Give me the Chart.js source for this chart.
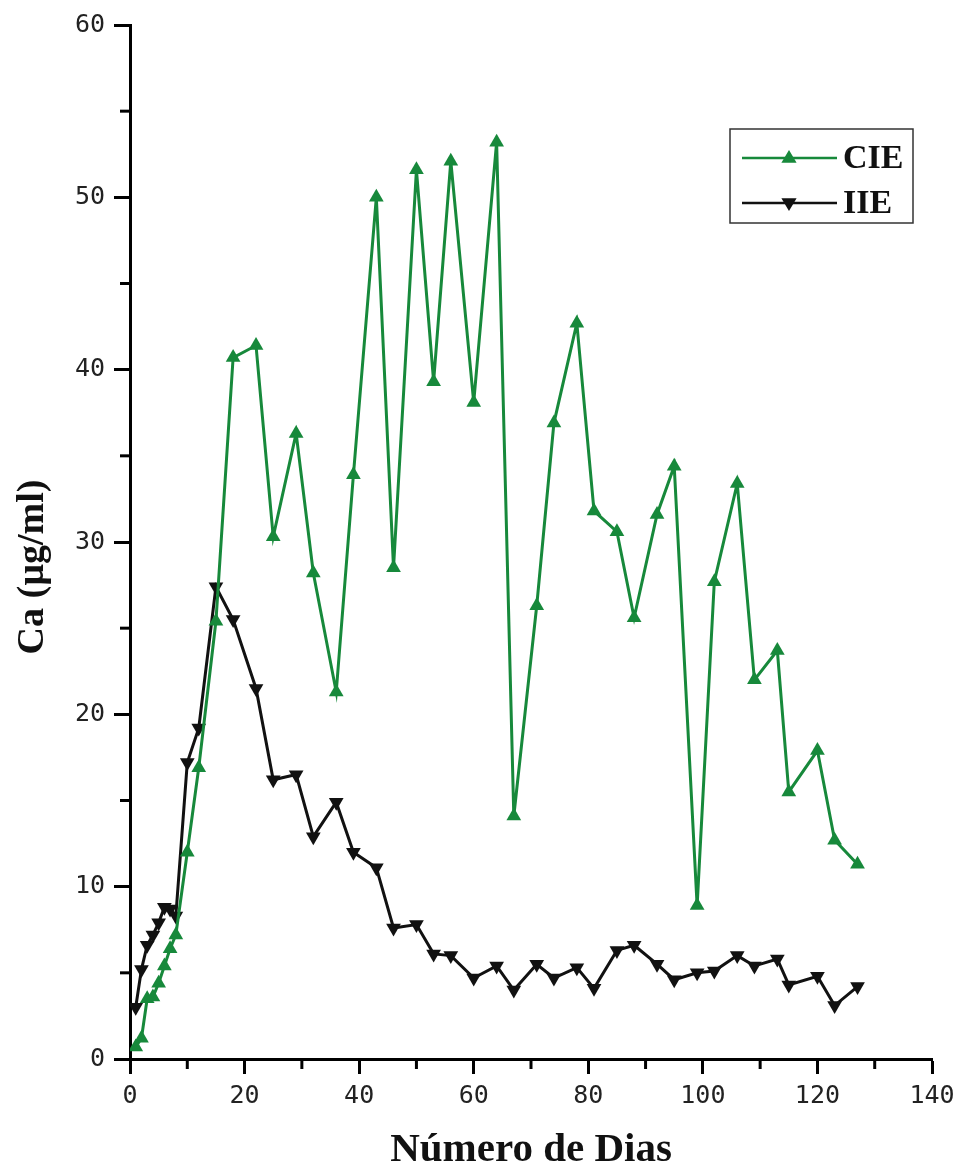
<!DOCTYPE html>
<html>
<head>
<meta charset="utf-8">
<script src="https://cdn.jsdelivr.net/npm/chart.js@4/dist/chart.umd.min.js"></script>
<style>
  html, body { margin: 0; padding: 0; background: #fff; }
  #wrap { width: 966px; height: 1173px; }
</style>
</head>
<body>
<div id="wrap"><canvas id="chart" width="966" height="1173"></canvas></div>
<script>
// sampling days
const days = [1, 2, 3, 4, 5, 6, 7, 8, 10, 12, 15, 18, 22, 25, 29, 32, 36, 39, 43, 46, 50, 53,
  56, 60, 64, 67, 71, 74, 78, 81, 85, 88, 92, 95, 99, 102, 106, 109, 113, 115, 120, 123, 127];

// Ca concentration (ug/ml)
const cie = [0.7, 1.2, 3.5, 3.6, 4.4, 5.4, 6.4, 7.2, 12.0, 16.9, 25.4, 40.7, 41.4, 30.3, 36.3,
  28.2, 21.3, 33.9, 50.0, 28.5, 51.6, 39.3, 52.1, 38.1, 53.2, 14.1, 26.3, 36.9, 42.7, 31.8,
  30.6, 25.6, 31.6, 34.4, 8.9, 27.7, 33.4, 22.0, 23.7, 15.5, 17.9, 12.7, 11.3];
const iie = [3.0, 5.2, 6.6, 7.2, 7.9, 8.8, 8.7, 8.3, 17.2, 19.2, 27.4, 25.5, 21.5, 16.2, 16.5,
  12.9, 14.9, 12.0, 11.1, 7.6, 7.8, 6.1, 6.0, 4.7, 5.4, 4.0, 5.5, 4.7, 5.3, 4.1, 6.3, 6.6,
  5.5, 4.6, 5.0, 5.1, 6.0, 5.4, 5.8, 4.3, 4.8, 3.1, 4.2];

const seriesNames = ["CIE", "IIE"];
const xTitle = "Número de Dias";
const yTitle = "Ca (µg/ml)";
const xMinorTicks = [10, 30, 50, 70, 90, 110, 130];
const yMinorTicks = [5, 15, 25, 35, 45, 55];

const GREEN = "#17893b";
const BLACK = "#111111";

const toPoints = (vals) => vals.map((v, i) => ({ x: days[i], y: v }));

function triangle(ctx, x, y, r, down) {
  const s = down ? -1 : 1;
  ctx.beginPath();
  ctx.moveTo(x, y - s * r);
  ctx.lineTo(x + r * 0.95, y + s * r * 0.6);
  ctx.lineTo(x - r * 0.95, y + s * r * 0.6);
  ctx.closePath();
  ctx.fill();
}

// minor ticks, axis titles and boxed legend
const extras = {
  id: "extras",
  afterDraw(chart) {
    const ctx = chart.ctx;
    const xs = chart.scales.x;
    const ys = chart.scales.y;
    const area = chart.chartArea;
    ctx.save();
    ctx.strokeStyle = "#000";
    ctx.lineWidth = 3;
    xMinorTicks.forEach((v) => {
      const px = xs.getPixelForValue(v);
      ctx.beginPath();
      ctx.moveTo(px, area.bottom);
      ctx.lineTo(px, area.bottom + 10);
      ctx.stroke();
    });
    yMinorTicks.forEach((v) => {
      const py = ys.getPixelForValue(v);
      ctx.beginPath();
      ctx.moveTo(area.left, py);
      ctx.lineTo(area.left - 10, py);
      ctx.stroke();
    });

    // axis titles
    ctx.fillStyle = "#111";
    ctx.font = "bold 41px 'Liberation Serif', 'Times New Roman', serif";
    ctx.textAlign = "center";
    ctx.textBaseline = "middle";
    ctx.fillText(xTitle, (area.left + area.right) / 2, 1150);
    ctx.save();
    ctx.translate(33, 567);
    ctx.rotate(-Math.PI / 2);
    ctx.font = "bold 38px 'Liberation Serif', 'Times New Roman', serif";
    ctx.fillText(yTitle, 0, 0);
    ctx.restore();

    // legend
    ctx.lineWidth = 1.5;
    ctx.strokeStyle = "#333";
    ctx.strokeRect(730, 129, 183, 94);
    chart.data.datasets.forEach((ds, i) => {
      const ly = 158 + i * 45;
      ctx.strokeStyle = ds.borderColor;
      ctx.lineWidth = 2.5;
      ctx.beginPath();
      ctx.moveTo(742, ly);
      ctx.lineTo(837, ly);
      ctx.stroke();
      ctx.fillStyle = ds.backgroundColor;
      triangle(ctx, 789, ly, 8, i === 1);
      ctx.fillStyle = "#111";
      ctx.font = "bold 34px 'Liberation Serif', 'Times New Roman', serif";
      ctx.textAlign = "left";
      ctx.fillText(ds.label, 843, ly + 1);
    });
    ctx.restore();
  },
};

const tickFont = { family: "'DejaVu Sans Mono', monospace", size: 25 };

new Chart(document.getElementById("chart"), {
  type: "line",
  data: {
    datasets: [
      {
        label: seriesNames[0],
        data: toPoints(cie),
        borderColor: GREEN,
        backgroundColor: GREEN,
        borderWidth: 3,
        pointStyle: "triangle",
        pointRadius: 8.5,
        pointBorderWidth: 0,
        tension: 0,
      },
      {
        label: seriesNames[1],
        data: toPoints(iie),
        borderColor: BLACK,
        backgroundColor: BLACK,
        borderWidth: 3,
        pointStyle: "triangle",
        pointRotation: 180,
        pointRadius: 8.5,
        pointBorderWidth: 0,
        tension: 0,
      },
    ],
  },
  options: {
    responsive: false,
    animation: false,
    layout: { padding: { top: 25, right: 34, left: 0, bottom: 0 } },
    plugins: { legend: { display: false }, tooltip: { enabled: false } },
    scales: {
      x: {
        type: "linear",
        min: 0,
        max: 140,
        afterFit: (s) => { s.height = 114; },
        border: { display: true, color: "#000", width: 3 },
        grid: { drawOnChartArea: false, drawTicks: true, tickLength: 15, tickWidth: 3, tickColor: "#000" },
        ticks: { stepSize: 20, color: "#222", font: tickFont, padding: 7, maxRotation: 0 },
      },
      y: {
        min: 0,
        max: 60,
        afterFit: (s) => { s.width = 130; },
        border: { display: true, color: "#000", width: 3 },
        grid: { drawOnChartArea: false, drawTicks: true, tickLength: 16, tickWidth: 3, tickColor: "#000" },
        ticks: { stepSize: 10, color: "#222", font: tickFont, padding: 9 },
      },
    },
  },
  plugins: [extras],
});
</script>
</body>
</html>
